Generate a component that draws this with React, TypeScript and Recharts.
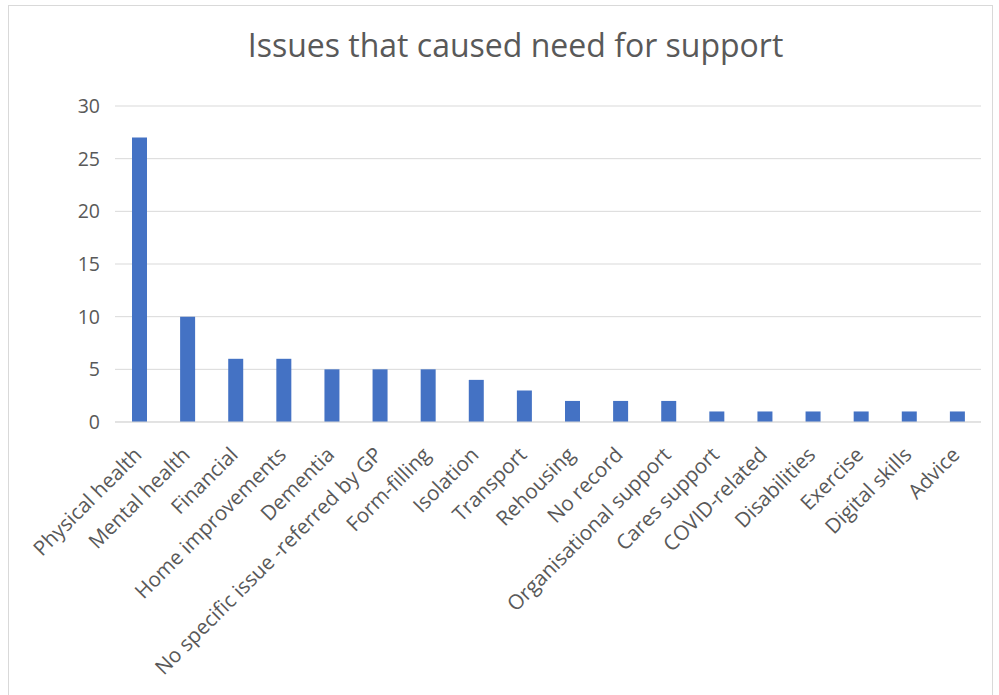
import { Bar, BarChart, CartesianGrid, XAxis, YAxis } from 'recharts';

const categories = [
  'Physical health',
  'Mental health',
  'Financial',
  'Home improvements',
  'Dementia',
  'No specific issue -referred by GP',
  'Form-filling',
  'Isolation',
  'Transport',
  'Rehousing',
  'No record',
  'Organisational support',
  'Cares support',
  'COVID-related',
  'Disabilities',
  'Exercise',
  'Digital skills',
  'Advice',
];
const counts = [27, 10, 6, 6, 5, 5, 5, 4, 3, 2, 2, 2, 1, 1, 1, 1, 1, 1];
const yTicks = [0, 5, 10, 15, 20, 25, 30];

const data = categories.map((name, i) => ({ name, value: counts[i] }));

const FONT = '"Open Sans", sans-serif';

function AngledTick({ x, y, payload }: any) {
  return (
    <g transform={`translate(${x + 4},${y + 26})`}>
      <text
        transform="rotate(-45)"
        textAnchor="end"
        fontSize={20.6}
        fontFamily={FONT}
        fill="#595959"
      >
        {payload.value}
      </text>
    </g>
  );
}

export default function App() {
  return (
    <div
      style={{
        position: 'absolute',
        left: 8,
        top: 5,
        width: 985,
        height: 700,
        border: '1px solid #d9d9d9',
        background: '#fff',
        boxSizing: 'border-box',
      }}
    >
      <div
        style={{
          position: 'absolute',
          top: 17,
          left: 15,
          width: '100%',
          textAlign: 'center',
          fontFamily: FONT,
          fontSize: 32,
          color: '#595959',
        }}
      >
        Issues that caused need for support
      </div>
      <BarChart
        width={985}
        height={690}
        data={data}
        margin={{ top: 100, right: 13, left: 0, bottom: 4 }}
      >
        <CartesianGrid stroke="#d9d9d9" vertical={false} />
        <XAxis
          dataKey="name"
          interval={0}
          height={270}
          tickLine={false}
          axisLine={{ stroke: '#d9d9d9' }}
          tick={<AngledTick />}
        />
        <YAxis
          width={106}
          domain={[0, 30]}
          ticks={yTicks}
          tickLine={false}
          axisLine={false}
          tickMargin={9}
          tick={{ fontSize: 19.5, fill: '#595959', fontFamily: FONT }}
        />
        <Bar dataKey="value" fill="#4472c4" barSize={15} isAnimationActive={false} />
      </BarChart>
    </div>
  );
}
